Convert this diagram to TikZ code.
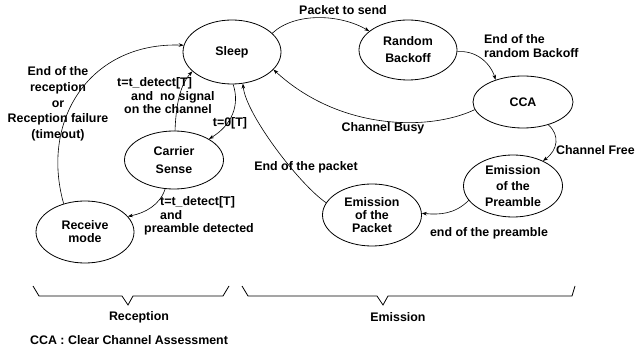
\documentclass[tikz,border=0pt]{standalone}
\usepackage{fontspec}
\setmainfont{Liberation Sans}
\usetikzlibrary{shapes.geometric,arrows.meta}
\newcommand{\fz}[1]{\bfseries\fontsize{12.4}{#1}\selectfont}
\begin{document}
\begin{tikzpicture}[x=1pt,y=-1pt,
 st/.style={draw,ellipse,line width=0.8pt,inner sep=0pt,align=center},
 lbl/.style={inner sep=0pt,font=\fz{13.5}},
 edge/.style={-{Stealth[length=5pt,width=3.6pt]},line width=0.6pt},
 brace/.style={line width=0.8pt}]
\useasboundingbox (0,0) rectangle (636,352);

% states
\node[st,minimum width=98pt,minimum height=64pt,font=\fz{17}] (sleep) at (232,52) {Sleep};
\node[st,minimum width=98pt,minimum height=60pt,font=\fz{17}] (rb) at (408,50) {Random\\Backoff};
\node[st,minimum width=100pt,minimum height=52pt,font=\fz{17}] (cca) at (523,102) {CCA};
\node[st,minimum width=99pt,minimum height=62pt,font=\fz{16}] (pre) at (513,186) {Emission\\of the\\Preamble};
\node[st,minimum width=99pt,minimum height=62pt,font=\fz{13}] (pkt) at (372,215) {Emission\\of the\\Packet};
\node[st,minimum width=99pt,minimum height=58pt,font=\fz{18}] (cs) at (174,160) {Carrier\\Sense};
\node[st,minimum width=98pt,minimum height=62pt,font=\fz{13}] (rx) at (85,232) {Receive\\mode};

% transitions
\draw[edge] (sleep.25) .. controls (295,12) and (340,14) .. (rb.154);
\draw[edge] (rb.-2) .. controls (475,50) and (490,62) .. (cca.141);
\draw[edge] (cca.189) .. controls (430,131) and (340,131) .. (sleep.-23);
\draw[edge] (cca.-42) .. controls (560,135) and (558,150) .. (pre.40);
\draw[edge] (pre.198) .. controls (455,214) and (440,215) .. (pkt.2);
\draw[edge] (pkt.165) .. controls (300,185) and (246,115) .. (sleep.-71);
\draw[edge] (sleep.-88) .. controls (240,105) and (232,125) .. (cs.31);
\draw[edge] (cs.88) .. controls (176,105) and (180,85) .. (sleep.206);
\draw[edge] (cs.-107) .. controls (160,205) and (145,213) .. (rx.20);
\draw[edge] (rx.127) .. controls (40,120) and (90,42) .. (sleep.172);

% labels
\node[lbl] (l1) at (343,10) {Packet to send};
\node[lbl,anchor=west,align=left] (l2) at (484,46) {End of the\\random Backoff};
\node[lbl] (l3) at (383,128) {Channel Busy};
\node[lbl,anchor=west] (l4) at (556,150) {Channel Free};
\node[lbl] (l5) at (489,233) {end of the preamble};
\node[lbl] (l6) at (306,167) {End of the packet};
\node[lbl] (l7) at (230,123) {t=0[T]};
\node[lbl,anchor=west,align=left] (l8) at (117,96) {t=t\_detect[T]\\\hspace*{14pt}and\ \ no signal\\\hspace*{7pt}on the channel};
\node[lbl,anchor=west,align=left] (l9) at (144,216) {\hspace*{16pt}t=t\_detect[T]\\\hspace*{16pt}and\\preamble detected};
\node[lbl,align=center,font=\fz{15.7}] (l10) at (58,104) {End of the\\reception\\or\\Reception failure\\(timeout)};

% braces
\draw[brace] (33,286) -- (39,296) -- (122,296) -- (128,305) -- (133,296) -- (223,296) -- (229,286);
\draw[brace] (242,286) -- (248,296) -- (377,296) -- (383,305) -- (388,296) -- (572,296) -- (575,286);
\node[lbl] (rec) at (139,317) {Reception};
\node[lbl] (emi) at (398,317) {Emission};
\node[lbl,anchor=west] (note) at (30,340) {CCA : Clear Channel Assessment};
\end{tikzpicture}
\end{document}
